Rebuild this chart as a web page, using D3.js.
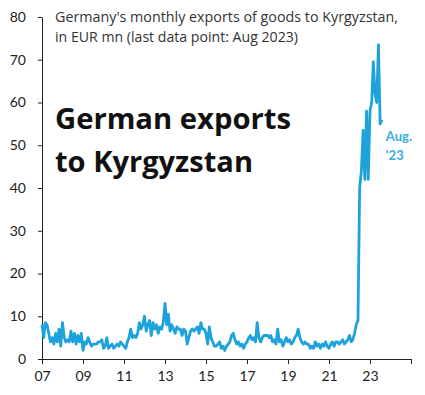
<!DOCTYPE html>
<html>
<head>
<meta charset="utf-8">
<script src="https://cdn.jsdelivr.net/npm/d3@7"></script>
<style>
  body { margin: 0; background: #fff; }
  svg { display: block; font-family: Lato, "Open Sans", sans-serif; }
</style>
</head>
<body>
<svg id="chart"></svg>
<script>
// Germany's monthly exports of goods to Kyrgyzstan, EUR mn, Jan 2007 - Aug 2023
const startYear = 2007;
const exports2007_2011 = [
  8, 5, 8.5, 8, 6, 4, 5, 3.5, 6, 4, 7, 3,
  8.5, 5, 4, 4.5, 4, 6.5, 4, 6, 3.5, 5.5, 4, 6,
  2, 4, 3.5, 5, 4, 3, 3.5, 3.5, 3.5, 4, 4, 4.5,
  2.5, 3, 5, 2.5, 3, 3.5, 2.5, 3, 3.5, 3, 4, 3.5,
  3, 2.5, 4, 5, 7, 5, 5.5, 5, 6, 8.5, 7, 8
];
const exports2012_2016 = [
  10, 6.5, 8, 9, 5.5, 8.5, 7, 8, 6, 7.5, 7, 8.5,
  13, 8, 10.5, 6.5, 8, 7, 6, 7.5, 7, 7, 5.5, 7,
  6.5, 3.5, 5, 6.5, 7, 6.5, 7, 7.5, 6, 8.5, 7, 7,
  6, 3.5, 7.5, 5, 4, 3, 3, 3.5, 4, 2.5, 3, 2,
  3, 3.5, 4, 5.5, 6, 4.5, 3.5, 4, 3, 3.5, 2.5, 3.5
];
const exports2017_2021 = [
  4, 5, 5.5, 4.5, 5, 4, 8.5, 5, 4, 5, 5.5, 5.5,
  5.5, 5, 5.5, 4, 4.5, 3.5, 7, 4, 4.5, 3, 4, 5,
  4, 4.5, 3.5, 4, 5, 5.5, 7, 5, 4, 3.5, 4, 3.5,
  3.5, 2.5, 3, 2.5, 4, 3, 3.5, 2.5, 3.5, 3, 4, 3,
  2.5, 3.5, 4, 3, 4, 4, 3.5, 4, 4.5, 3.5, 4, 4.5
];
const exports2022_2023 = [
  5.5, 4, 4.5, 6, 8, 9, 40, 44, 53.5, 42, 58, 42,
  58, 60, 69.5, 62, 60, 73.5, 55, 56
];
const exportsEURmn = [...exports2007_2011, ...exports2012_2016, ...exports2017_2021, ...exports2022_2023];

const yTicks = [0, 10, 20, 30, 40, 50, 60, 70, 80];
const xTickYears = [2007, 2009, 2011, 2013, 2015, 2017, 2019, 2021, 2023, 2025];
const titleLines = ["Germany's monthly exports of goods to Kyrgyzstan,", "in EUR mn (last data point: Aug 2023)"];
const headlineLines = ["German exports", "to Kyrgyzstan"];
const endLabelLines = ["Aug.", "'23"];

const width = 425, height = 395;
const margin = {top: 17, right: 14, bottom: 36, left: 42};
const lineColor = "#1da2dc";

const series = exportsEURmn.map((v, i) => ({
  date: new Date(startYear, i, 1),
  value: v
}));

const svg = d3.select("#chart")
  .attr("width", width)
  .attr("height", height);

const x = d3.scaleTime()
  .domain([new Date(2007, 0, 1), new Date(2025, 0, 1)])
  .range([margin.left, width - margin.right]);

const y = d3.scaleLinear()
  .domain([0, 80])
  .range([height - margin.bottom, margin.top]);

// axes
const yAxis = svg.append("g")
  .attr("transform", `translate(${margin.left},0)`)
  .call(d3.axisLeft(y).tickValues(yTicks).tickSize(4).tickSizeOuter(0).tickPadding(12));

const xAxis = svg.append("g")
  .attr("transform", `translate(0,${height - margin.bottom})`)
  .call(d3.axisBottom(x)
    .tickValues(xTickYears.map(yr => new Date(yr, 0, 1)))
    .tickFormat(d => d.getFullYear() < 2025 ? d3.timeFormat("%y")(d) : "")
    .tickSize(5).tickSizeOuter(0).tickPadding(7));

[yAxis, xAxis].forEach(g => {
  g.selectAll("path, line").attr("stroke", "#222");
  g.selectAll("text").attr("fill", "#222").style("font-size", "14px").style("font-family", "Lato, sans-serif");
});

// line
const line = d3.line()
  .x(d => x(d.date))
  .y(d => y(d.value));

svg.append("path")
  .datum(series)
  .attr("fill", "none")
  .attr("stroke", lineColor)
  .attr("stroke-width", 2.8)
  .attr("stroke-linejoin", "round")
  .attr("d", line);

// title, two lines, fitted to the reference's widths
const titleWidths = [343, 243];
svg.append("g")
  .selectAll("text")
  .data(titleLines)
  .join("text")
    .attr("x", 55)
    .attr("y", (d, i) => 22 + i * 20)
    .attr("fill", "#333")
    .style("font-family", "'Open Sans', sans-serif")
    .style("font-size", "14px")
    .attr("textLength", (d, i) => titleWidths[i])
    .attr("lengthAdjust", "spacingAndGlyphs")
    .text(d => d);

// big headline
const headlineWidths = [236, 198];
svg.append("g")
  .selectAll("text")
  .data(headlineLines)
  .join("text")
    .attr("x", 55)
    .attr("y", (d, i) => 129 + i * 43)
    .attr("fill", "#111")
    .style("font-family", "'Open Sans', sans-serif")
    .style("font-size", "29px")
    .style("font-weight", "bold")
    .attr("textLength", (d, i) => headlineWidths[i])
    .attr("lengthAdjust", "spacingAndGlyphs")
    .text(d => d);

// end label
const last = series[series.length - 1];
svg.append("text")
  .attr("y", 141)
  .attr("fill", "#3aaedc")
  .style("font-size", "13px")
  .style("font-weight", "bold")
  .selectAll("tspan")
  .data(endLabelLines)
  .join("tspan")
    .attr("x", x(last.date) + 4)
    .attr("dy", (d, i) => i ? 19 : 0)
    .text(d => d);
</script>
</body>
</html>
